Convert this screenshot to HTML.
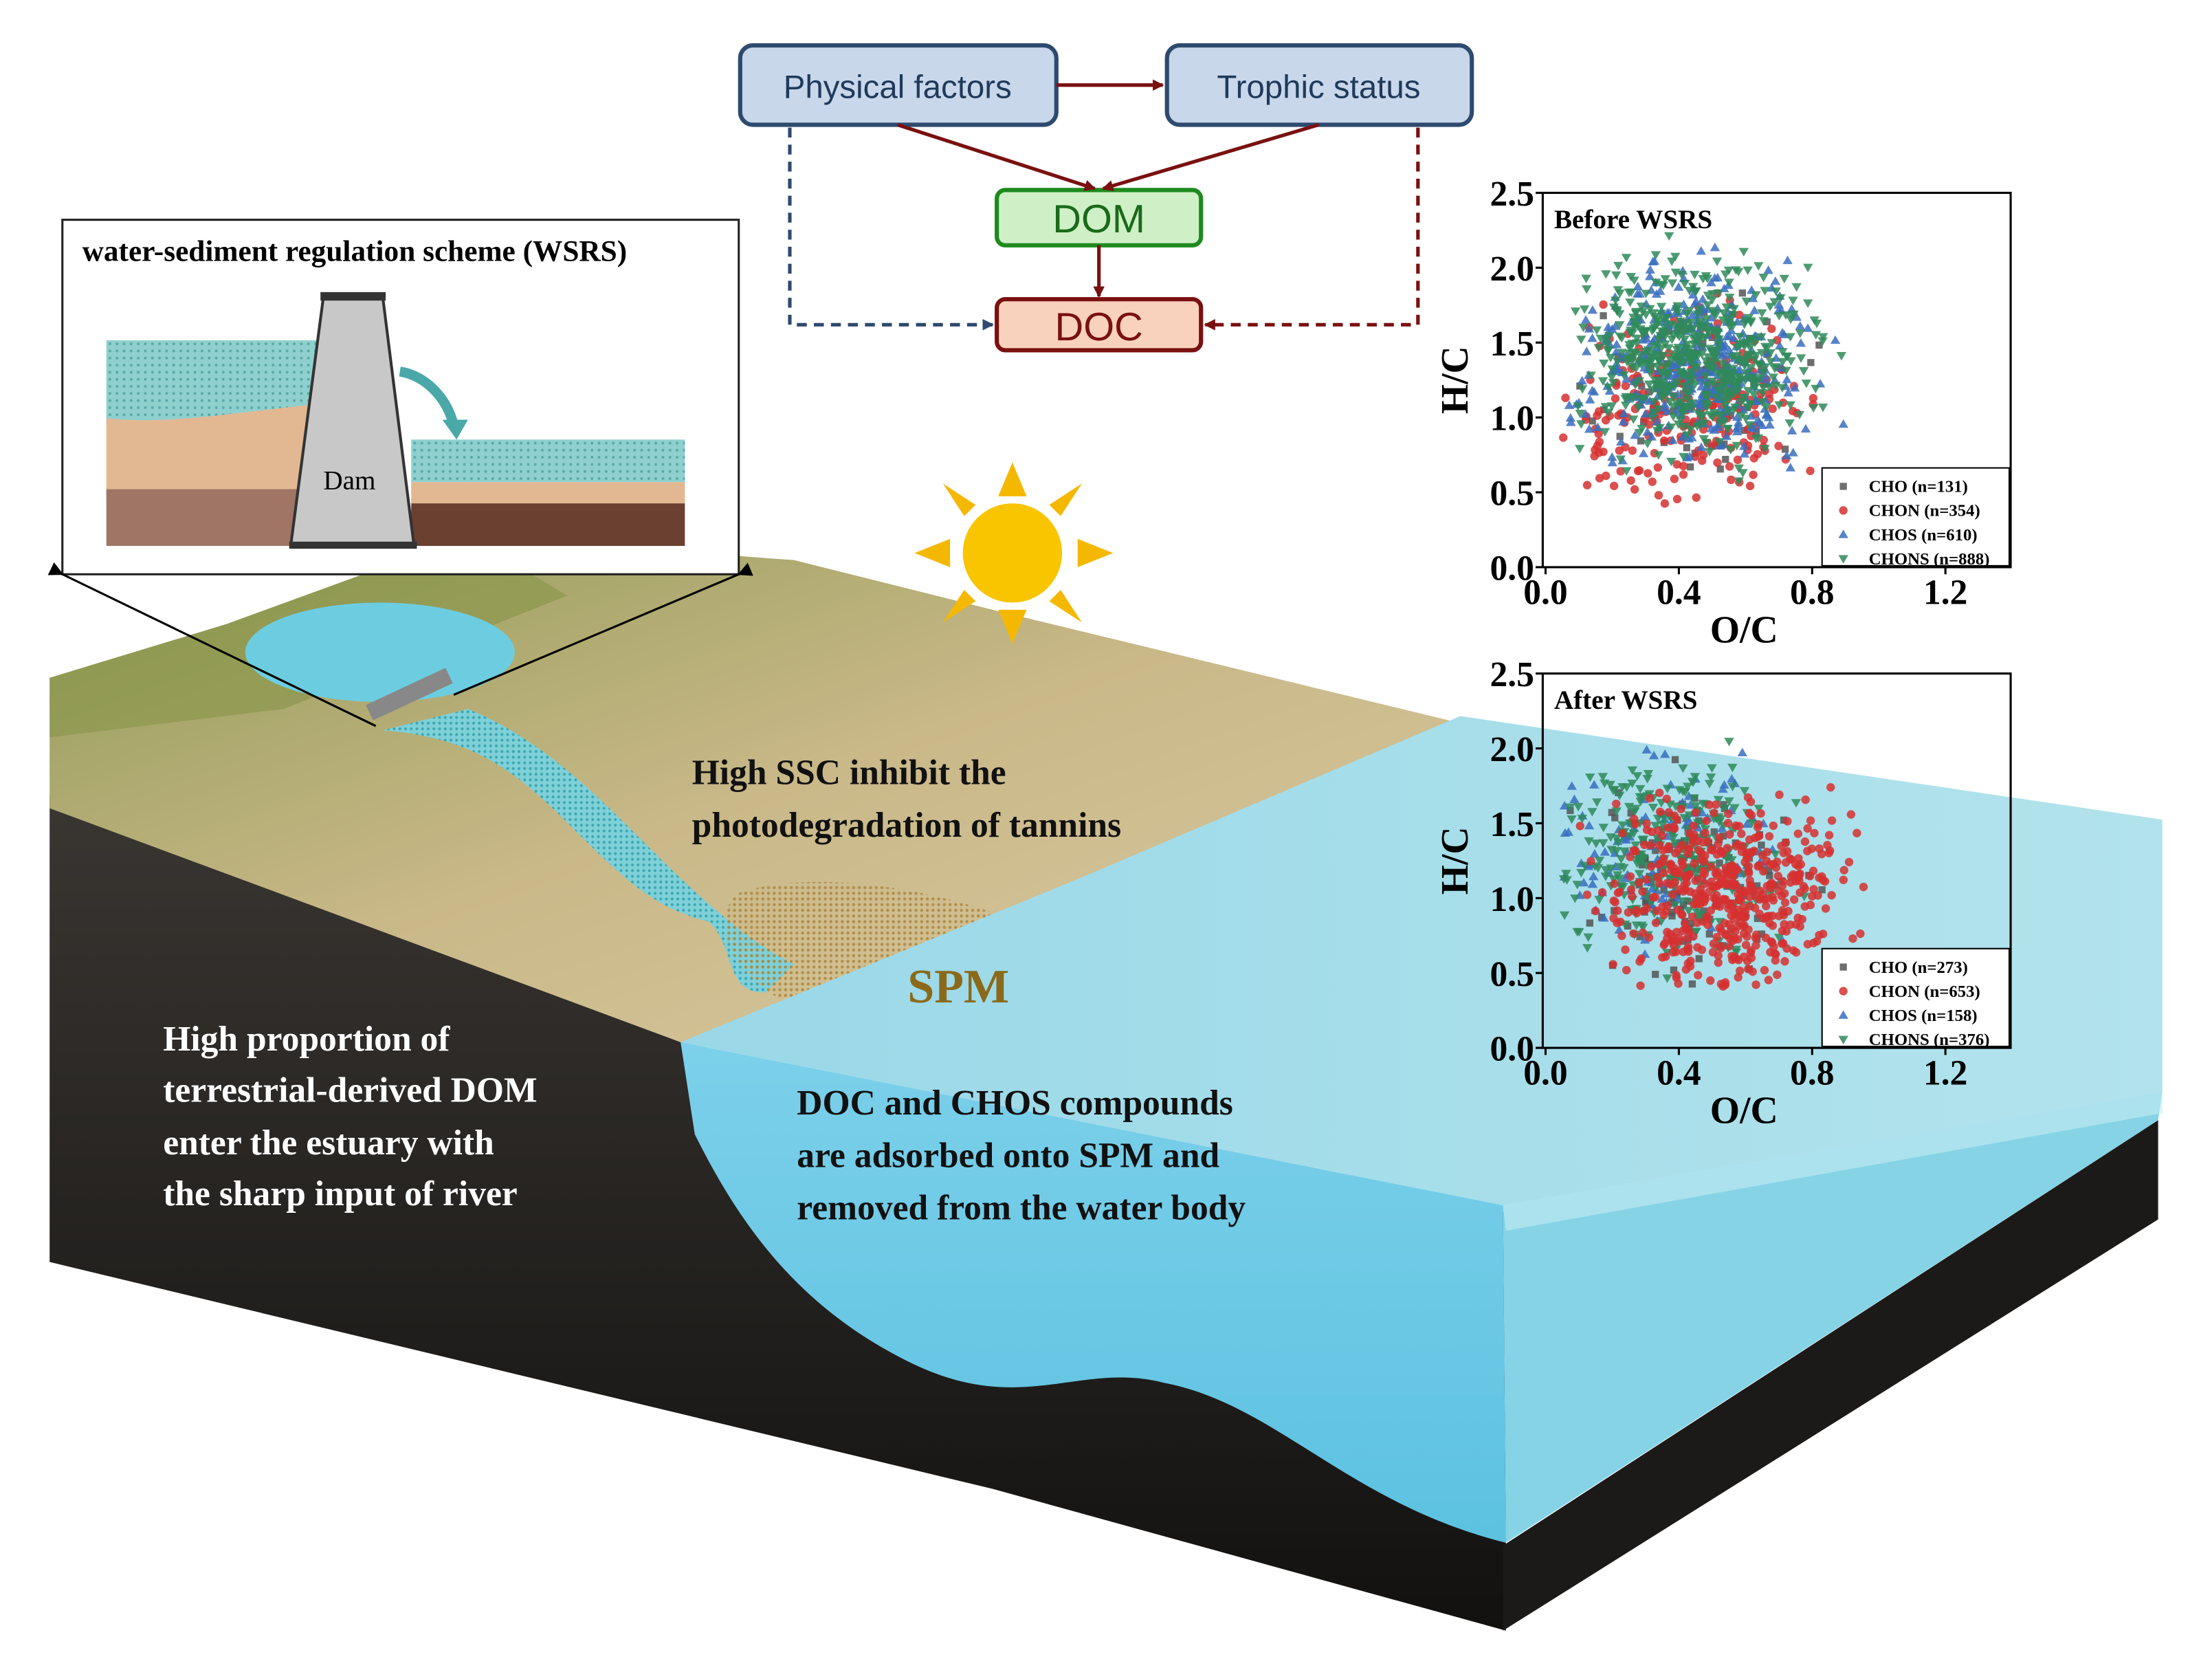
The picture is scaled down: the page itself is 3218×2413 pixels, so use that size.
<!DOCTYPE html>
<html><head><meta charset="utf-8"><style>
html,body{margin:0;padding:0;background:#fff;}
svg{display:block;}
.s{font-family:"Liberation Serif",serif;font-weight:bold;}
.a{font-family:"Liberation Sans",sans-serif;}
</style></head><body>
<svg id="m" width="3218" height="2413" viewBox="0 0 1560 1170" preserveAspectRatio="none" xmlns="http://www.w3.org/2000/svg">
<defs>
<linearGradient id="land" x1="0" y1="0" x2="1" y2="1">
<stop offset="0" stop-color="#8f9a55"/><stop offset="0.5" stop-color="#c9b888"/><stop offset="1" stop-color="#d8c9a0"/></linearGradient>
<linearGradient id="soil" x1="0" y1="0" x2="0" y2="1">
<stop offset="0" stop-color="#3a3632"/><stop offset="1" stop-color="#121110"/></linearGradient>
<linearGradient id="wtop" x1="0" y1="0" x2="1" y2="0">
<stop offset="0" stop-color="#9ad8e8"/><stop offset="1" stop-color="#b2e3ec"/></linearGradient>
<linearGradient id="wfront" x1="0" y1="0" x2="0" y2="1">
<stop offset="0" stop-color="#7cd0ea"/><stop offset="1" stop-color="#5cc2e0"/></linearGradient>
<pattern id="dots" width="4" height="4" patternUnits="userSpaceOnUse"><rect width="4" height="4" fill="#7fd0d8"/><circle cx="2" cy="2" r="1" fill="#3aa8b0"/></pattern>
<pattern id="sdots" width="4" height="4" patternUnits="userSpaceOnUse"><circle cx="2" cy="2" r="1.1" fill="#b08a40"/></pattern>
<pattern id="idots" width="5" height="5" patternUnits="userSpaceOnUse"><rect width="5" height="5" fill="#8fd0cf"/><circle cx="2.5" cy="2.5" r="1" fill="#5aaaa8"/></pattern>
<marker id="ar" markerWidth="8" markerHeight="8" refX="7" refY="4" orient="auto" markerUnits="userSpaceOnUse"><path d="M0,0 L8,4 L0,8 Z" fill="#7a1010"/></marker>
<marker id="ab" markerWidth="8" markerHeight="8" refX="7" refY="4" orient="auto" markerUnits="userSpaceOnUse"><path d="M0,0 L8,4 L0,8 Z" fill="#2e4a6e"/></marker>
<marker id="ak" markerWidth="10" markerHeight="10" refX="9" refY="5" orient="auto" markerUnits="userSpaceOnUse"><path d="M0,0 L10,5 L0,10 Z" fill="#000"/></marker>
</defs>

<!-- soil block -->
<polygon points="35,560 480,735 1062,855 1062,1150 700,1050 35,890" fill="url(#soil)"/>
<polygon points="1060,1090 1522,790 1522,860 1060,1150" fill="#1c1a18"/>
<!-- land top -->
<polygon points="35,478 160,440 330,378 560,395 700,430 1030,510 760,620 600,690 480,735 35,570" fill="url(#land)"/>
<polygon points="35,478 160,440 330,378 400,420 200,500 35,520" fill="#879448" opacity="0.6"/>
<!-- reservoir -->
<ellipse cx="268" cy="460" rx="95" ry="35" fill="#6dcde0"/>
<!-- river -->
<path d="M270,515 C330,520 360,540 400,580 C440,620 460,640 500,650 C520,670 510,700 540,700 L560,680 C520,660 480,620 450,590 C420,560 380,520 330,500 Z" fill="url(#dots)"/>
<!-- SPM -->
<path d="M520,630 C580,610 680,630 740,660 C790,700 780,735 720,735 C640,735 560,720 530,690 C510,670 505,645 520,630 Z" fill="url(#sdots)" opacity="0.9"/>
<!-- water block -->
<polygon points="480,735 760,620 1030,505 1525,578 1525,770 1060,850" fill="url(#wtop)"/>
<path d="M480,735 L1060,850 L1062,1088 C950,1060 900,990 820,975 C760,960 720,1000 640,960 C560,920 520,860 490,800 Z" fill="url(#wfront)"/>
<polygon points="1060,850 1525,770 1522,790 1062,1088" fill="#86d3e6"/>
<polygon points="1060,850 1525,770 1525,785 1062,868" fill="#c5ecf3" opacity="0.6"/>

<!-- sun -->
<g fill="#f5b800">
<circle cx="714" cy="390" r="35" fill="#f9c400"/>
<polygon points="714,326 704,350 724,350"/><polygon points="714,454 704,430 724,430"/>
<polygon points="645,390 670,380 670,400"/><polygon points="785,390 760,380 760,400"/>
<polygon points="665,341 688,356 680,364"/><polygon points="763,341 740,356 748,364"/>
<polygon points="665,439 688,424 680,416"/><polygon points="763,439 740,424 748,416"/>
</g>

<!-- inset -->
<rect x="44" y="155" width="477" height="250" fill="#fff" stroke="#222" stroke-width="1.5"/>
<text x="58" y="184" class="s" font-size="21">water-sediment regulation scheme (WSRS)</text>
<rect x="75" y="240" width="150" height="60" fill="url(#idots)"/>
<path d="M75,295 C120,300 170,290 225,285 L225,345 L75,350 Z" fill="#e2b892"/>
<rect x="75" y="345" width="150" height="40" fill="#a07565"/>
<rect x="290" y="310" width="193" height="30" fill="url(#idots)"/>
<rect x="290" y="340" width="193" height="15" fill="#e2b892"/>
<rect x="290" y="355" width="193" height="30" fill="#6a4030"/>
<polygon points="228,210 270,210 292,385 205,385" fill="#c8c8c8" stroke="#333" stroke-width="2"/>
<rect x="226" y="206" width="46" height="6" fill="#333"/>
<rect x="204" y="382" width="90" height="5" fill="#333"/>
<text x="228" y="345" font-size="19" font-family="Liberation Serif">Dam</text>
<path d="M282,262 C300,265 315,280 320,300" stroke="#4aa8a8" stroke-width="7" fill="none"/>
<polygon points="312,296 330,296 322,310" fill="#4aa8a8"/>
<line x1="44" y1="405" x2="265" y2="512" stroke="#000" stroke-width="1.5" marker-start="url(#ak)"/>
<line x1="521" y1="405" x2="320" y2="490" stroke="#000" stroke-width="1.5" marker-start="url(#ak)"/>
<rect x="258" y="483" width="62" height="12" fill="#888" transform="rotate(-25 290 490)"/>

<!-- flowchart -->
<rect x="522" y="32" width="223" height="56" rx="9" fill="#c8d7ea" stroke="#2e4a6e" stroke-width="3"/>
<text x="633" y="69" text-anchor="middle" class="a" font-size="23" fill="#1f3a5a">Physical factors</text>
<rect x="823" y="32" width="215" height="56" rx="9" fill="#c8d7ea" stroke="#2e4a6e" stroke-width="3"/>
<text x="930" y="69" text-anchor="middle" class="a" font-size="23" fill="#1f3a5a">Trophic status</text>
<rect x="703" y="134" width="144" height="39" rx="6" fill="#cff0c6" stroke="#1e8a1e" stroke-width="3"/>
<text x="775" y="164" text-anchor="middle" class="a" font-size="28" fill="#1a6a1a">DOM</text>
<rect x="703" y="211" width="144" height="36" rx="6" fill="#f9d2bd" stroke="#7a1010" stroke-width="3"/>
<text x="775" y="240" text-anchor="middle" class="a" font-size="28" fill="#7a1010">DOC</text>
<g stroke="#7a1010" stroke-width="2.5" fill="none">
<line x1="745" y1="60" x2="820" y2="60" marker-end="url(#ar)"/>
<line x1="633" y1="88" x2="772" y2="133" marker-end="url(#ar)"/>
<line x1="930" y1="88" x2="778" y2="133" marker-end="url(#ar)"/>
<line x1="775" y1="173" x2="775" y2="209" marker-end="url(#ar)"/>
<polyline points="1000,90 1000,229 850,229" stroke-dasharray="7,5" marker-end="url(#ar)"/>
</g>
<polyline points="557,90 557,229 700,229" stroke="#2e4a6e" stroke-width="2.5" fill="none" stroke-dasharray="7,5" marker-end="url(#ab)"/>

<!-- labels -->
<g class="s" font-size="25" fill="#fff">
<text x="115" y="741">High proportion of</text>
<text x="115" y="777">terrestrial-derived DOM</text>
<text x="115" y="814">enter the estuary with</text>
<text x="115" y="850">the sharp input of river</text>
</g>
<g class="s" font-size="25" fill="#111">
<text x="488" y="553">High SSC inhibit the</text>
<text x="488" y="590">photodegradation of tannins</text>
<text x="562" y="786">DOC and CHOS compounds</text>
<text x="562" y="823">are adsorbed onto SPM and</text>
<text x="562" y="860">removed from the water body</text>
</g>
<text x="640" y="707" class="s" font-size="34" fill="#8a6a1a">SPM</text>

<g id="p1"></g>
<g id="p2"></g>
</svg>
<script>
(function(){
var NS="http://www.w3.org/2000/svg";
function el(p,t,a,txt){var e=document.createElementNS(NS,t);for(var k in a)e.setAttribute(k,a[k]);if(txt!=null)e.textContent=txt;p.appendChild(e);return e;}
var seed=7;function r(){seed=(seed*16807)%2147483647;return seed/2147483647;}
function g(){return (r()+r()+r()-1.5)*1.2;}
function mark(G,s,px,py,c){
  if(s==0)el(G,"rect",{x:px-2.5,y:py-2.5,width:5,height:5,fill:c,opacity:0.85});
  else if(s==1)el(G,"circle",{cx:px,cy:py,r:3,fill:c,opacity:0.85});
  else if(s==2)el(G,"polygon",{points:(px)+","+(py-3.5)+" "+(px-3.5)+","+(py+2.5)+" "+(px+3.5)+","+(py+2.5),fill:c,opacity:0.85});
  else el(G,"polygon",{points:(px)+","+(py+3.5)+" "+(px-3.5)+","+(py-2.5)+" "+(px+3.5)+","+(py-2.5),fill:c,opacity:0.85});
}
function plot(id,top,title,leg,bg){
 var G=document.getElementById(id),L=1088,R=1418,B=top+264;
 el(G,"rect",{x:L,y:top,width:R-L,height:B-top,fill:bg?"none":"#fff",stroke:"#000","stroke-width":1.5});
 function X(v){return L+2+v*235;}function Y(v){return B-v*105.6;}
 var cols=["#555","#d63030","#3a6ec0","#2f8a5a"];
 var ns=id=="p1"?[60,250,400,550]:[120,500,120,300];
 var cx=id=="p1"?[[0.42,1.1],[0.42,1.05],[0.45,1.35],[0.45,1.4]]:[[0.45,1.15],[0.55,1.05],[0.35,1.3],[0.35,1.3]];
 var order=id=="p1"?[0,1,2,3]:[0,2,3,1];
 for(var oi=0;oi<4;oi++){var s=order[oi];for(var i=0;i<ns[s];i++){
  var x=cx[s][0]+g()*0.27,y=cx[s][1]+g()*0.5;
  if(x<0.05||x>1.15||y<0.4||y>2.3)continue;
  mark(G,s,X(x),Y(y),cols[s]);
 }}
 el(G,"rect",{x:1285,y:B-70,width:132,height:69,fill:"#fff",stroke:"#000","stroke-width":1});
 for(var j=0;j<4;j++){var yy=B-57+j*17;
  mark(G,j,1300,yy,cols[j]);
  el(G,"text",{x:1318,y:yy+4,"font-family":"Liberation Serif","font-weight":"bold","font-size":12},leg[j]);}
 el(G,"text",{x:L+8,y:top+25,"font-family":"Liberation Serif","font-weight":"bold","font-size":19},title);
 var yl=["0.0","0.5","1.0","1.5","2.0","2.5"];
 for(var k=0;k<6;k++){el(G,"text",{x:L-6,y:Y(k*0.5)+9,"text-anchor":"end","font-family":"Liberation Serif","font-weight":"bold","font-size":25},yl[k]);
  el(G,"line",{x1:L-5,y1:Y(k*0.5),x2:L,y2:Y(k*0.5),stroke:"#000","stroke-width":1.5});}
 var xl=["0.0","0.4","0.8","1.2"];
 for(var k=0;k<4;k++){el(G,"text",{x:X(k*0.4),y:B+26,"text-anchor":"middle","font-family":"Liberation Serif","font-weight":"bold","font-size":25},xl[k]);
  el(G,"line",{x1:X(k*0.4),y1:B,x2:X(k*0.4),y2:B+5,stroke:"#000","stroke-width":1.5});}
 el(G,"text",{x:1230,y:B+53,"text-anchor":"middle","font-family":"Liberation Serif","font-weight":"bold","font-size":27},"O/C");
 el(G,"text",{x:1035,y:top+132,"text-anchor":"middle","font-family":"Liberation Serif","font-weight":"bold","font-size":27,transform:"rotate(-90 1035 "+(top+132)+")"},"H/C");
}
plot("p1",136,"Before WSRS",["CHO (n=131)","CHON (n=354)","CHOS  (n=610)","CHONS (n=888)"],null);
plot("p2",475,"After WSRS",["CHO (n=273)","CHON (n=653)","CHOS (n=158)","CHONS (n=376)"],"#fff");
})();
</script>
</body></html>
